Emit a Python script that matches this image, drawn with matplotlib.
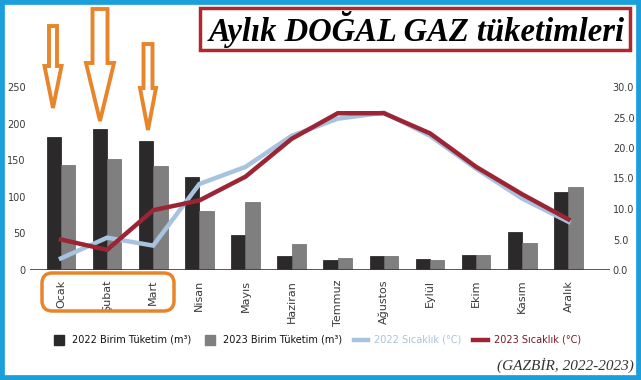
import matplotlib
matplotlib.use("Agg")
import matplotlib.pyplot as plt
import numpy as np
from matplotlib.patches import Rectangle, Polygon, FancyBboxPatch
from matplotlib.lines import Line2D

months = ["Ocak", "Şubat", "Mart", "Nisan", "Mayıs", "Haziran", "Temmuz",
          "Ağustos", "Eylül", "Ekim", "Kasım", "Aralık"]
cons_2022 = [182, 193, 176, 127, 48, 19, 13, 19, 15, 21, 52, 107]
cons_2023 = [143, 152, 142, 81, 93, 35, 17, 19, 13, 20, 37, 113]
temp_2022 = [1.9, 5.3, 4.0, 14.1, 16.9, 22.0, 24.8, 25.8, 22.0, 16.6, 11.7, 7.9]
temp_2023 = [5.0, 3.3, 9.8, 11.4, 15.3, 21.5, 25.7, 25.7, 22.4, 16.9, 12.4, 8.3]
left_ticks = [0, 50, 100, 150, 200, 250]
right_ticks = [0, 5, 10, 15, 20, 25, 30]

W, H = 641, 380
fig = plt.figure(figsize=(W / 100, H / 100), dpi=100)
fig.patch.set_facecolor("white")

def fx(px):
    return px / W

def fy(py):
    return 1 - py / H

ax_left, ax_right, ax_bot, ax_top = 30, 610, 270, 87
ax = fig.add_axes([fx(ax_left), fy(ax_bot), fx(ax_right - ax_left), (ax_bot - ax_top) / H])
ax2 = ax.twinx()

x = np.arange(len(months))
bw = 0.31
c22, c23 = "#2b292a", "#7f7f7f"
ax.bar(x - bw / 2, cons_2022, bw, color=c22, edgecolor="#1a1a1a", linewidth=0.5, zorder=2)
ax.bar(x + bw / 2, cons_2023, bw, color=c23, edgecolor="#6a6a6a", linewidth=0.5, zorder=2)
ax.axhline(0, color="#5a2b2b", lw=1.2, zorder=3)

ax.set_xlim(-0.67, 11.9)
ax.set_ylim(0, 250)
ax2.set_ylim(0, 30)
ax.set_zorder(1)
ax2.set_zorder(2)
ax.patch.set_visible(False)

blue, red = "#a8c3df", "#9b2535"
ax2.plot(x, temp_2022, color=blue, lw=3.2, solid_joinstyle="miter", clip_on=False)
ax2.plot(x, temp_2023, color=red, lw=3.2, solid_joinstyle="miter", clip_on=False)

for a in (ax, ax2):
    for s in a.spines.values():
        s.set_visible(False)

tick_font = dict(fontsize=7, color="#3a3a3a")
ax.set_yticks(left_ticks)
ax.set_yticklabels([str(t) for t in left_ticks], **tick_font)
ax.tick_params(axis="y", length=0, pad=3)
ax2.set_yticks(right_ticks)
ax2.set_yticklabels([f"{t:.1f}" for t in right_ticks], **tick_font)
ax2.tick_params(axis="y", length=0, pad=2)
ax.set_xticks(x)
ax.set_xticklabels(months, rotation=90, fontsize=8, color="#3a3a3a")
ax.tick_params(axis="x", length=0, pad=7)

# legend
handles = [
    Line2D([], [], marker="s", ls="none", color=c22, markersize=7),
    Line2D([], [], marker="s", ls="none", color=c23, markersize=7),
    Line2D([], [], color=blue, lw=3.2),
    Line2D([], [], color=red, lw=3.2),
]
labels = ["2022 Birim Tüketim (m³)", "2023 Birim Tüketim (m³)",
          "2022 Sıcaklık (°C)", "2023 Sıcaklık (°C)"]
leg = fig.legend(handles, labels, loc="center", bbox_to_anchor=(fx(316), fy(340)),
                 ncol=4, frameon=False, fontsize=7, handlelength=1.5,
                 columnspacing=1.2, handletextpad=0.6)
for t, c in zip(leg.get_texts(), ["#111111", "#111111", blue, "#7a1a28"]):
    t.set_color(c)

# title box
fig.patches.append(Rectangle((fx(200), fy(50)), fx(430), (50 - 8) / H,
                             transform=fig.transFigure, facecolor="white",
                             edgecolor="#b0282d", lw=2.5, zorder=5))
fig.text(fx(417), fy(30), "Aylık DOĞAL GAZ tüketimleri", fontsize=23.5,
         family="Liberation Serif", weight="bold", style="italic",
         ha="center", va="center", color="black", zorder=6)

# source
fig.text(fx(634), fy(365), "(GAZBİR, 2022-2023)", fontsize=11,
         family="Liberation Serif", style="italic", ha="right", va="center",
         color="#333333")

# orange arrows
orange = "#e8852a"

def arrow(cx, y0, y1, y2, sw, hw):
    pts = [(cx - sw / 2, y0), (cx + sw / 2, y0), (cx + sw / 2, y1), (cx + hw / 2, y1),
           (cx, y2), (cx - hw / 2, y1), (cx - sw / 2, y1)]
    pts = [(fx(a), fy(b)) for a, b in pts]
    fig.patches.append(Polygon(pts, closed=True, transform=fig.transFigure,
                               facecolor="white", edgecolor=orange, lw=2.8, zorder=6))

arrow(53, 26, 66, 108, 8, 17)
arrow(100, 9, 63, 121, 15, 28)
arrow(148, 44, 88, 130, 9, 16)

# orange rounded box around winter months
fig.patches.append(FancyBboxPatch((fx(42), fy(311)), fx(132), (311 - 273) / H,
                                  boxstyle="round,pad=0,rounding_size=0.016",
                                  transform=fig.transFigure, facecolor="none",
                                  edgecolor=orange, lw=2.5, zorder=6,
                                  mutation_aspect=W / H))

# cyan frame
fig.patches.append(Rectangle((0, 0), 1, 1, transform=fig.transFigure,
                             facecolor="none", edgecolor="#1a9fdb", lw=7, zorder=10))

fig.savefig("out.png", dpi=100)
